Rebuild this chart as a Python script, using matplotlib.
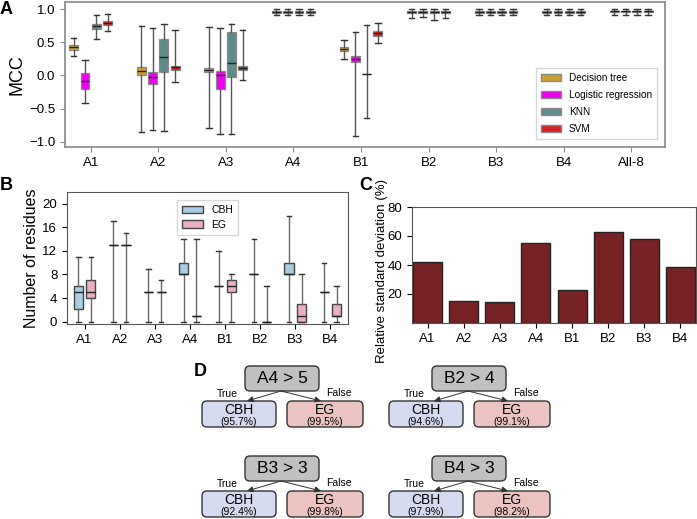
import numpy as np
import matplotlib
matplotlib.use("Agg")
import matplotlib.pyplot as plt
from matplotlib.patches import FancyBboxPatch, Patch

plt.rcParams['font.family'] = ['Liberation Sans', 'DejaVu Sans']

# ---- panel A: MCC per feature set and classifier ----
groups_a = ["A1", "A2", "A3", "A4", "B1", "B2", "B3", "B4", "All-8"]
models = ["Decision tree", "Logistic regression", "KNN", "SVM"]
model_colors = ["#c9a030", "#ee00ee", "#5f8b8b", "#d42020"]

dt_lo = [0.30, -0.86, -0.80, 0.91, 0.25, 0.87, 0.91, 0.91, 0.91]
dt_q1 = [0.39, 0.00, 0.05, 0.95, 0.37, 0.94, 0.94, 0.95, 0.96]
dt_med = [0.43, 0.07, 0.09, 0.965, 0.40, 0.96, 0.96, 0.96, 0.97]
dt_q3 = [0.46, 0.13, 0.12, 0.98, 0.43, 0.98, 0.98, 0.98, 0.98]
dt_hi = [0.56, 0.74, 0.73, 1.0, 0.53, 1.01, 1.01, 1.0, 1.0]

lr_lo = [-0.42, -0.83, -0.88, 0.91, -0.91, 0.88, 0.91, 0.91, 0.91]
lr_q1 = [-0.21, -0.13, -0.20, 0.95, 0.20, 0.94, 0.94, 0.95, 0.96]
lr_med = [-0.08, -0.03, 0.0, 0.965, 0.25, 0.96, 0.96, 0.96, 0.97]
lr_q3 = [0.04, 0.06, 0.07, 0.98, 0.29, 0.98, 0.98, 0.98, 0.98]
lr_hi = [0.23, 0.71, 0.71, 1.0, 0.65, 1.01, 1.01, 1.0, 1.0]

knn_lo = [0.55, -0.84, -0.89, 0.91, -0.64, 0.84, 0.91, 0.91, 0.92]
knn_q1 = [0.70, 0.06, -0.02, 0.95, 0.02, 0.94, 0.94, 0.95, 0.96]
knn_med = [0.75, 0.28, 0.19, 0.965, 0.02, 0.96, 0.96, 0.96, 0.97]
knn_q3 = [0.78, 0.55, 0.66, 0.98, 0.02, 0.98, 0.98, 0.98, 0.98]
knn_hi = [0.92, 0.78, 0.78, 1.0, 0.77, 1.01, 1.01, 1.0, 1.0]

svm_lo = [0.67, -0.10, -0.07, 0.91, 0.49, 0.87, 0.91, 0.91, 0.92]
svm_q1 = [0.77, 0.09, 0.09, 0.95, 0.59, 0.94, 0.94, 0.95, 0.96]
svm_med = [0.79, 0.13, 0.12, 0.965, 0.64, 0.96, 0.96, 0.96, 0.97]
svm_q3 = [0.82, 0.15, 0.15, 0.98, 0.67, 0.98, 0.98, 0.98, 0.98]
svm_hi = [0.93, 0.69, 0.68, 1.0, 0.79, 1.01, 1.01, 1.0, 1.0]

# ---- panel B: number of residues, CBH vs EG ----
groups_b = ["A1", "A2", "A3", "A4", "B1", "B2", "B3", "B4"]
cbh_lo = [0, 0, 0, 0, 0, 0, 0, 0]
cbh_q1 = [2.2, 13, 5, 8, 6, 8, 8, 5]
cbh_med = [5, 13, 5, 8, 6, 8, 8, 5]
cbh_q3 = [6, 13, 5, 10, 6, 8, 10, 5]
cbh_hi = [11, 17, 9, 14, 12, 14, 18, 10]

eg_lo = [0, 0, 0, 0, 0, 0, 0, 0]
eg_q1 = [4, 13, 5, 1, 5, 0, 0, 1]
eg_med = [5, 13, 5, 1, 6, 0, 1, 1]
eg_q3 = [7, 13, 5, 1, 7, 0, 3, 3]
eg_hi = [11, 15, 7, 14, 8, 6, 8, 6]

# ---- panel C: relative standard deviation ----
rsd = [42, 15.5, 14.5, 55, 23, 63, 58, 38.5]

# ---- panel D: decision trees ----
splits = ["A4 > 5", "B2 > 4", "B3 > 3", "B4 > 3"]
cbh_acc = ["95.7%", "94.6%", "92.4%", "97.9%"]
eg_acc = ["99.5%", "99.1%", "99.8%", "98.2%"]

W, H = 697, 519


def px(l, t, r, b):
    return [l / W, 1 - b / H, (r - l) / W, (b - t) / H]


def make_stats(lo, q1, med, q3, hi):
    return [dict(whislo=a, q1=b, med=c, q3=d, whishi=e, fliers=[])
            for a, b, c, d, e in zip(lo, q1, med, q3, hi)]


fig = plt.figure(figsize=(W / 100, H / 100), dpi=100)

# A
ax = fig.add_axes(px(65, 2, 665, 147))
a_stats = [
    (dt_lo, dt_q1, dt_med, dt_q3, dt_hi),
    (lr_lo, lr_q1, lr_med, lr_q3, lr_hi),
    (knn_lo, knn_q1, knn_med, knn_q3, knn_hi),
    (svm_lo, svm_q1, svm_med, svm_q3, svm_hi),
]
x = np.arange(len(groups_a))
for k, st in enumerate(a_stats):
    ax.bxp(make_stats(*st), positions=x + (k - 1.5) * 0.167, widths=0.13,
           patch_artist=True, showfliers=False, manage_ticks=False,
           boxprops=dict(facecolor=model_colors[k], edgecolor="#8a8a8a", linewidth=0.9),
           medianprops=dict(color="#222222", linewidth=1.0),
           whiskerprops=dict(color="#555555", linewidth=1.0),
           capprops=dict(color="#333333", linewidth=1.0), capwidths=0.08)
ax.set_xlim(-0.38, 8.5)
ax.set_ylim(-1.08, 1.11)
ax.set_xticks(x)
ax.set_xticklabels(groups_a, fontsize=9.5)
ax.set_yticks([-1.0, -0.5, 0.0, 0.5, 1.0])
ax.set_yticklabels(["\u22121.0", "\u22120.5", "0.0", "0.5", "1.0"], fontsize=9.5)
ax.set_ylabel("MCC", fontsize=13)
ax.yaxis.set_label_coords(-0.066, 0.5)
for s in ax.spines.values():
    s.set_color("#888888")
    s.set_linewidth(1.2)
ax.tick_params(color="#888888")
handles = [Patch(facecolor=c, edgecolor="#888888", label=m) for c, m in zip(model_colors, models)]
ax.legend(handles=handles, loc="lower right", fontsize=7.2, fancybox=False,
          edgecolor="#cccccc", handlelength=2.0, borderpad=0.5, labelspacing=0.7,
          bbox_to_anchor=(0.995, 0.02))

# B
axb = fig.add_axes(px(67, 192, 348, 324))
xb = np.arange(len(groups_b))
b_colors = ["#a9cde2", "#eab0c0"]
for k, st in enumerate([(cbh_lo, cbh_q1, cbh_med, cbh_q3, cbh_hi),
                        (eg_lo, eg_q1, eg_med, eg_q3, eg_hi)]):
    axb.bxp(make_stats(*st), positions=xb + (k - 0.5) * 0.36, widths=0.26,
            patch_artist=True, showfliers=False, manage_ticks=False,
            boxprops=dict(facecolor=b_colors[k], edgecolor="#444444", linewidth=1.0),
            medianprops=dict(color="#222222", linewidth=1.0),
            whiskerprops=dict(color="#666666", linewidth=1.0),
            capprops=dict(color="#333333", linewidth=1.0), capwidths=0.13)
axb.set_xlim(-0.5, 7.5)
axb.set_ylim(-0.4, 22)
axb.set_xticks(xb)
axb.set_xticklabels(groups_b)
axb.set_yticks(range(0, 21, 4))
axb.tick_params(labelsize=9.5)
axb.set_ylabel("Number of residues", fontsize=11.5)
axb.yaxis.set_label_coords(-0.1, 0.5)
for s in axb.spines.values():
    s.set_color("#555555")
axb.legend(handles=[Patch(facecolor=b_colors[0], edgecolor="#444444", label="CBH"),
                    Patch(facecolor=b_colors[1], edgecolor="#444444", label="EG")],
           loc="upper center", fontsize=7.5, fancybox=False, edgecolor="#cccccc",
           handlelength=2.0, borderpad=0.5, labelspacing=0.45,
           bbox_to_anchor=(0.5, 0.98))

# C
axc = fig.add_axes(px(412, 207, 696, 323))
axc.bar(np.arange(len(groups_b)), rsd, width=0.8, color="#772326",
        edgecolor="#222222", linewidth=1.0)
axc.set_xlim(-0.43, 7.43)
axc.set_ylim(0, 80)
axc.set_yticks([20, 40, 60, 80])
axc.set_xticks(np.arange(len(groups_b)))
axc.set_xticklabels(groups_b)
axc.tick_params(labelsize=9.5)
axc.set_ylabel("Relative standard deviation (%)", fontsize=9.5)
axc.yaxis.set_label_coords(-0.085, 0.45)
for s in axc.spines.values():
    s.set_color("#555555")

# D: decision trees drawn on a full-figure overlay in pixel units
axd = fig.add_axes([0, 0, 1, 1])
axd.set_xlim(0, W)
axd.set_ylim(H, 0)
axd.axis("off")
axd.patch.set_alpha(0)

origins = [(245, 366), (432, 366), (245, 456), (432, 456)]


def rbox(x0, y0, w, h, fc):
    axd.add_patch(FancyBboxPatch((x0, y0), w, h, boxstyle="round,pad=0,rounding_size=5",
                                 facecolor=fc, edgecolor="#333333", linewidth=1.0))


for (rx, ry), sp, ca, ea in zip(origins, splits, cbh_acc, eg_acc):
    rbox(rx, ry, 74, 25, "#c0c0c0")
    axd.text(rx + 37, ry + 12.5, sp, ha="center", va="center", fontsize=12.5)
    rbox(rx - 43, ry + 35, 74, 26, "#d6daf0")
    axd.text(rx - 6, ry + 44, "CBH", ha="center", va="center", fontsize=10)
    axd.text(rx - 6, ry + 56, "(" + ca + ")", ha="center", va="center", fontsize=7.5)
    rbox(rx + 42, ry + 35, 76, 26, "#ebc4c1")
    axd.text(rx + 80, ry + 44, "EG", ha="center", va="center", fontsize=10)
    axd.text(rx + 80, ry + 56, "(" + ea + ")", ha="center", va="center", fontsize=7.5)
    for tx in (rx + 2, rx + 76):
        axd.annotate("", xy=(tx, ry + 35), xytext=(rx + 36, ry + 25),
                     arrowprops=dict(arrowstyle="-|>", color="#333333", lw=0.7,
                                     mutation_scale=9, shrinkA=0, shrinkB=0))
    axd.text(rx - 18, ry + 28, "True", ha="center", va="center", fontsize=7.5)
    axd.text(rx + 94, ry + 27, "False", ha="center", va="center", fontsize=7.5)

for lab, lx, ly in [("A", 6, 10), ("B", 6, 185), ("C", 366, 185), ("D", 200, 371)]:
    fig.text(lx / W, 1 - ly / H, lab, fontsize=13, fontweight="bold", ha="center", va="center")

fig.savefig("out.png", dpi=100)
